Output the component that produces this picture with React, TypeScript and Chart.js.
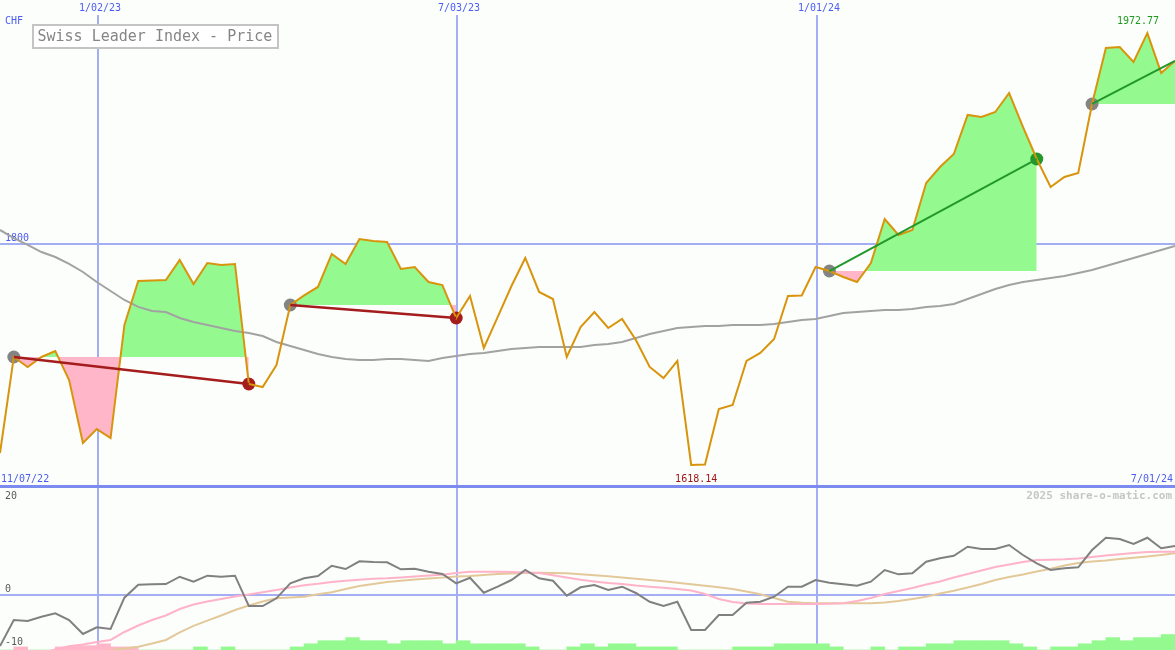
import React, { useEffect, useRef } from 'react';
import { Chart, registerables } from 'chart.js';

Chart.register(...registerables);

const WIDTH = 1175;
const TOP_HEIGHT = 488;
const BOTTOM_HEIGHT = 162;

// ---- Data (weekly points, index 0 = 11/07/22 ... index 85 = 7/01/24) ----
const startLabel = '11/07/22';
const endLabel = '7/01/24';
const currencyLabel = 'CHF';
const chartTitle = 'Swiss Leader Index - Price';
const watermark = '2025 share-o-matic.com';

const dateTickPositions = [7.09, 33.06, 59.1];
const dateTickLabels = ['1/02/23', '7/03/23', '1/01/24'];

const priceGridValues = [1800];
const oscGridValues = [0];
const oscLabelValues = [20, 0, -10];

const priceValues = [
  1627.9, 1706.8, 1698.6, 1706.8, 1711.7, 1687.9, 1636.1, 1647.6, 1640.2, 1733.1,
  1769.2, 1769.6, 1770.0, 1786.5, 1766.7, 1784.0, 1782.4, 1783.2, 1684.6, 1682.1,
  1700.2, 1749.5, 1757.4, 1764.3, 1791.4, 1783.2, 1803.7, 1802.1, 1801.2, 1779.1,
  1780.7, 1768.4, 1765.9, 1738.8, 1756.9, 1714.2, 1739.6, 1765.1, 1788.1, 1760.2,
  1754.4, 1706.8, 1731.4, 1743.7, 1730.6, 1738.0, 1720.7, 1698.6, 1689.5, 1703.5,
  1618.14, 1618.5, 1664.1, 1667.4, 1703.5, 1710.1, 1721.6, 1756.9, 1757.3, 1780.7,
  1777.4, 1772.5, 1768.4, 1784.0, 1820.1, 1807.0, 1811.1, 1849.7, 1862.8, 1873.5,
  1905.6, 1903.9, 1908.0, 1923.6, 1895.7, 1869.4, 1846.4, 1854.6, 1857.9, 1914.6,
  1960.6, 1961.4, 1949.1, 1972.77, 1940.1, 1949.9,
];

const movingAverage = [
  1811.1, 1804.5, 1798.8, 1793.0, 1788.9, 1783.2, 1776.6, 1768.4, 1761.0, 1753.6,
  1747.9, 1744.6, 1743.7, 1738.8, 1735.5, 1733.1, 1730.6, 1728.1, 1726.5, 1724.0,
  1719.1, 1715.8, 1712.5, 1709.2, 1706.8, 1705.1, 1704.3, 1704.3, 1705.1, 1705.1,
  1704.3, 1703.5, 1706.0, 1707.6, 1709.2, 1710.1, 1711.7, 1713.4, 1714.2, 1715.0,
  1715.0, 1715.0, 1715.0, 1716.6, 1717.5, 1719.1, 1722.4, 1725.7, 1728.1, 1730.6,
  1731.4, 1732.2, 1732.2, 1733.1, 1733.1, 1733.1, 1733.9, 1735.5, 1737.2, 1738.0,
  1740.5, 1742.9, 1743.7, 1744.6, 1745.4, 1745.4, 1746.2, 1747.9, 1748.7, 1750.3,
  1754.4, 1758.5, 1762.6, 1765.9, 1768.4, 1770.0, 1771.7, 1773.3, 1775.8, 1778.2,
  1781.5, 1784.8, 1788.1, 1791.4, 1794.7, 1798.0,
];

// trades: entry index, exit index (last one still open)
const tradeEntries = [1, 21, 60, 79];
const tradeExits = [18, 33, 75, 85];
const tradeOpen = [false, false, false, true];

const oscValues = [
  -10.85, -5.32, -5.53, -4.62, -3.89, -5.32, -8.3, -6.87, -7.23, -0.57,
  2.19, 2.28, 2.34, 3.89, 2.83, 4.11, 3.89, 4.11, -2.34, -2.34,
  -0.7, 2.49, 3.55, 4.04, 6.23, 5.53, 7.17, 7.02, 6.96, 5.47,
  5.6, 4.96, 4.47, 2.49, 3.68, 0.49, 1.77, 3.19, 5.32, 3.55,
  3.04, -0.15, 1.64, 2.13, 1.06, 1.77, 0.43, -1.43, -2.34, -1.43,
  -7.45, -7.45, -4.26, -4.26, -1.64, -1.43, -0.36, 1.77, 1.77, 3.19,
  2.62, 2.28, 1.98, 2.83, 5.32, 4.4, 4.62, 7.09, 7.81, 8.36,
  10.28, 9.79, 9.79, 10.64, 8.51, 6.74, 5.32, 5.68, 5.89, 9.57,
  12.19, 11.91, 10.85, 12.19, 9.94, 10.43,
];

const fastSignal = [
  -14.0, -13.5, -13.0, -12.3, -11.6, -10.9, -10.53, -10.0, -9.57, -7.87,
  -6.49, -5.32, -4.36, -2.98, -2.02, -1.38, -0.85, -0.32, 0.11, 0.6,
  1.06, 1.6, 2.06, 2.38, 2.77, 3.02, 3.26, 3.45, 3.55, 3.72,
  3.94, 4.15, 4.32, 4.68, 4.96, 4.96, 4.96, 4.89, 4.79, 4.68,
  4.19, 3.72, 3.23, 2.87, 2.55, 2.34, 2.02, 1.77, 1.53, 1.28,
  0.96, 0.21, -0.85, -1.49, -1.81, -1.91, -1.91, -1.91, -1.91, -1.91,
  -1.87, -1.77, -1.28, -0.64, 0.21, 0.85, 1.49, 2.23, 2.87, 3.72,
  4.47, 5.21, 5.96, 6.49, 7.02, 7.45, 7.51, 7.6, 7.77, 8.09,
  8.4, 8.66, 8.94, 9.15, 9.21, 9.21,
];

const slowSignal = [
  -15.5, -15.3, -15.0, -14.6, -14.2, -13.7, -13.2, -12.5, -11.81, -11.38,
  -11.0, -10.32, -9.57, -7.96, -6.55, -5.45, -4.36, -3.19, -2.23, -1.38,
  -0.7, -0.53, -0.38, 0.15, 0.57, 1.28, 1.91, 2.34, 2.77, 3.02,
  3.28, 3.49, 3.7, 3.94, 4.06, 4.26, 4.47, 4.57, 4.68, 4.72,
  4.68, 4.64, 4.4, 4.19, 3.98, 3.72, 3.47, 3.19, 2.91, 2.62,
  2.28, 1.98, 1.64, 1.28, 0.74, 0.15, -0.64, -1.45, -1.64, -1.74,
  -1.77, -1.77, -1.77, -1.77, -1.6, -1.28, -0.85, -0.36, 0.32, 0.91,
  1.6, 2.34, 3.19, 3.83, 4.36, 5.0, 5.57, 6.28, 6.81, 7.13,
  7.34, 7.66, 7.91, 8.19, 8.51, 8.87,
];

// weekly histogram (negative = pink, positive = green)
const histogramValues = [
  0, -1, 0, 0, -1, -1.4, -1.4, -2, -1, -1,
  0, 0, 0, 0, 1, 0, 1, 0, 0, 0,
  0, 1, 2, 3, 3, 4, 3, 3, 2, 3,
  3, 3, 2, 3, 2, 2, 2, 2, 1, 0,
  0, 1, 2, 1, 2, 2, 1, 1, 1, 0,
  0, 0, 0, 1, 1, 1, 2, 2, 2, 2,
  1, 0, 0, 1, 0, 1, 1, 2, 2, 3,
  3, 3, 3, 2, 1, 0, 1, 1, 2, 3,
  4, 3, 4, 4, 5,
];

// ---- Styles ----
const BG = '#fcfefc';
const GRID = '#a3aef5';
const AXIS = '#7b8bf0';
const BLUE_TEXT = '#4c5cf0';
const GRAY_TEXT = '#5a5a5a';
const PRICE_COLOR = '#d8940c';
const MA_COLOR = '#a2a2a2';
const OSC_COLOR = '#808080';
const FAST_COLOR = '#ffb3c8';
const SLOW_COLOR = '#e3c99a';
const FILL_UP = '#94fa90';
const FILL_DOWN = '#ffb6c9';
const LOSS_COLOR = '#a41c1c';
const WIN_COLOR = '#22982a';
const ENTRY_COLOR = '#848484';
const MONO = '"DejaVu Sans Mono", "Liberation Mono", monospace';

const toPoints = (arr: number[], from = 0, to = arr.length - 1) =>
  arr.slice(from, to + 1).map((v, i) => ({ x: from + i, y: v }));

function drawText(ctx: CanvasRenderingContext2D, s: string, x: number, y: number, color: string, font: string, align: CanvasTextAlign = 'left') {
  ctx.fillStyle = color;
  ctx.font = font;
  ctx.textAlign = align;
  ctx.textBaseline = 'middle';
  ctx.fillText(s, x, y);
}

const topDecor = {
  id: 'topDecor',
  beforeDatasetsDraw(chart: any) {
    const { ctx, scales } = chart;
    const x = scales.x;
    const y = scales.y;
    ctx.save();
    ctx.fillStyle = GRID;
    dateTickPositions.forEach((t) => {
      const px = Math.round(x.getPixelForValue(t));
      ctx.fillRect(px - 1, 15, 2, TOP_HEIGHT - 15);
    });
    priceGridValues.forEach((v) => {
      const py = Math.round(y.getPixelForValue(v));
      ctx.fillStyle = GRID;
      ctx.fillRect(0, py - 1, WIDTH, 2);
      drawText(ctx, String(v), 5, py - 6, BLUE_TEXT, `10px ${MONO}`);
    });
    ctx.restore();
  },
  afterDatasetsDraw(chart: any) {
    const { ctx, scales } = chart;
    const x = scales.x;
    ctx.save();
    // axis line separating panels
    ctx.fillStyle = AXIS;
    ctx.fillRect(0, TOP_HEIGHT - 3, WIDTH, 3);
    // date labels
    dateTickPositions.forEach((t, i) => {
      const px = x.getPixelForValue(t);
      drawText(ctx, dateTickLabels[i], px + 2, 8, BLUE_TEXT, `10px ${MONO}`, 'center');
    });
    drawText(ctx, currencyLabel, 5, 21, BLUE_TEXT, `10px ${MONO}`);
    drawText(ctx, startLabel, 1, 479, BLUE_TEXT, `10px ${MONO}`);
    drawText(ctx, endLabel, WIDTH - 2, 479, BLUE_TEXT, `10px ${MONO}`, 'right');
    // title box
    ctx.fillStyle = '#ffffff';
    ctx.fillRect(33, 25, 245, 23);
    ctx.strokeStyle = '#c4c4c4';
    ctx.lineWidth = 2;
    ctx.strokeRect(33, 25, 245, 23);
    drawText(ctx, chartTitle, 37.5, 37, '#858585', `15px ${MONO}`);
    // min / max labels
    let minIdx = 0;
    let maxIdx = 0;
    priceValues.forEach((v, i) => {
      if (v < priceValues[minIdx]) minIdx = i;
      if (v > priceValues[maxIdx]) maxIdx = i;
    });
    const minPx = x.getPixelForValue(minIdx) + 5;
    drawText(ctx, priceValues[minIdx].toFixed(2), minPx, 479, '#a01414', `10px ${MONO}`, 'center');
    const maxPx = Math.min(x.getPixelForValue(maxIdx), WIDTH - 37);
    drawText(ctx, priceValues[maxIdx].toFixed(2), maxPx, 21, '#1f9a1f', `10px ${MONO}`, 'center');
    ctx.restore();
  },
};

const bottomDecor = {
  id: 'bottomDecor',
  beforeDatasetsDraw(chart: any) {
    const { ctx, scales } = chart;
    const x = scales.x;
    const y = scales.y;
    ctx.save();
    ctx.fillStyle = GRID;
    dateTickPositions.forEach((t) => {
      const px = Math.round(x.getPixelForValue(t));
      ctx.fillRect(px - 1, 0, 2, BOTTOM_HEIGHT);
    });
    oscGridValues.forEach((v) => {
      const py = Math.round(y.getPixelForValue(v));
      ctx.fillStyle = GRID;
      ctx.fillRect(0, py - 1, WIDTH, 2);
    });
    const lowest = Math.min(...oscLabelValues);
    oscLabelValues.forEach((v) => {
      const py = v === lowest ? BOTTOM_HEIGHT - 8 : Math.max(y.getPixelForValue(v) - 6, 8);
      drawText(ctx, String(v), 5, py, GRAY_TEXT, `10px ${MONO}`);
    });
    drawText(ctx, watermark, WIDTH - 3, 8, '#c6c6c6', `bold 11px ${MONO}`, 'right');
    ctx.restore();
  },
};

const baseOptions: any = {
  responsive: false,
  maintainAspectRatio: false,
  animation: false,
  events: [],
  layout: { padding: 0, autoPadding: false },
  plugins: { legend: { display: false }, tooltip: { enabled: false } },
  elements: { point: { radius: 0 }, line: { tension: 0 } },
};

export default function App() {
  const topRef = useRef<HTMLCanvasElement>(null);
  const bottomRef = useRef<HTMLCanvasElement>(null);

  useEffect(() => {
    const prevMargin = document.body.style.margin;
    document.body.style.margin = '0';

    const tradeFills = tradeEntries.map((e, t) => ({
      type: 'line',
      data: toPoints(priceValues, e, tradeExits[t]),
      borderColor: 'rgba(0,0,0,0)',
      borderWidth: 0,
      pointRadius: 0,
      fill: { target: { value: priceValues[e] }, above: FILL_UP, below: FILL_DOWN },
      order: 10,
    }));

    const tradeLines = tradeEntries.map((e, t) => {
      const exit = tradeExits[t];
      const win = priceValues[exit] >= priceValues[e];
      return {
        type: 'line',
        data: [
          { x: e, y: priceValues[e] },
          { x: exit, y: priceValues[exit] },
        ],
        borderColor: win ? WIN_COLOR : LOSS_COLOR,
        borderWidth: win ? 2 : 2.5,
        pointRadius: 0,
        fill: false,
        order: 5,
      };
    });

    const markerPoints: { x: number; y: number }[] = [];
    const markerColors: string[] = [];
    tradeEntries.forEach((e, t) => {
      markerPoints.push({ x: e, y: priceValues[e] });
      markerColors.push(ENTRY_COLOR);
      if (!tradeOpen[t]) {
        const exit = tradeExits[t];
        markerPoints.push({ x: exit, y: priceValues[exit] });
        markerColors.push(priceValues[exit] >= priceValues[e] ? WIN_COLOR : LOSS_COLOR);
      }
    });

    const topChart = new Chart(topRef.current as HTMLCanvasElement, {
      type: 'line',
      data: {
        datasets: [
          ...tradeFills,
          {
            type: 'line',
            data: toPoints(movingAverage),
            borderColor: MA_COLOR,
            borderWidth: 2,
            pointRadius: 0,
            fill: false,
            order: 9,
          },
          {
            type: 'line',
            data: markerPoints,
            showLine: false,
            pointRadius: 6.5,
            pointBorderWidth: 0,
            pointBackgroundColor: markerColors,
            pointBorderColor: markerColors,
            order: 8,
          },
          {
            type: 'line',
            data: toPoints(priceValues),
            borderColor: PRICE_COLOR,
            borderWidth: 2,
            pointRadius: 0,
            fill: false,
            order: 7,
          },
          ...tradeLines,
        ] as any,
      },
      options: {
        ...baseOptions,
        scales: {
          x: { type: 'linear', min: 0, max: priceValues.length - 1, offset: false, display: false },
          y: { type: 'linear', min: 1599.18, max: 2000, display: false },
        },
      },
      plugins: [topDecor],
    });

    const bottomChart = new Chart(bottomRef.current as HTMLCanvasElement, {
      type: 'line',
      data: {
        datasets: [
          {
            type: 'bar',
            data: histogramValues.map((v, k) => ({ x: k + 0.5, y: Math.abs(v) })),
            backgroundColor: histogramValues.map((v) => (v < 0 ? FILL_DOWN : FILL_UP)),
            borderWidth: 0,
            barPercentage: 1,
            categoryPercentage: 1,
            yAxisID: 'yh',
            order: 10,
          },
          {
            type: 'line',
            data: toPoints(slowSignal),
            borderColor: SLOW_COLOR,
            borderWidth: 2,
            pointRadius: 0,
            fill: false,
            order: 9,
          },
          {
            type: 'line',
            data: toPoints(fastSignal),
            borderColor: FAST_COLOR,
            borderWidth: 2,
            pointRadius: 0,
            fill: false,
            order: 8,
          },
          {
            type: 'line',
            data: toPoints(oscValues),
            borderColor: OSC_COLOR,
            borderWidth: 2,
            pointRadius: 0,
            fill: false,
            order: 7,
          },
        ] as any,
      },
      options: {
        ...baseOptions,
        scales: {
          x: { type: 'linear', min: 0, max: oscValues.length - 1, offset: false, grid: { offset: false }, display: false },
          y: { type: 'linear', min: -11.7, max: 22.77, display: false },
          yh: { type: 'linear', min: 0, max: BOTTOM_HEIGHT / 3.1, display: false },
        },
      },
      plugins: [bottomDecor],
    });

    return () => {
      topChart.destroy();
      bottomChart.destroy();
      document.body.style.margin = prevMargin;
    };
  }, []);

  return (
    <div style={{ width: WIDTH, height: TOP_HEIGHT + BOTTOM_HEIGHT, background: BG, overflow: 'hidden' }}>
      <canvas ref={topRef} width={WIDTH} height={TOP_HEIGHT} style={{ display: 'block' }} />
      <canvas ref={bottomRef} width={WIDTH} height={BOTTOM_HEIGHT} style={{ display: 'block' }} />
    </div>
  );
}
